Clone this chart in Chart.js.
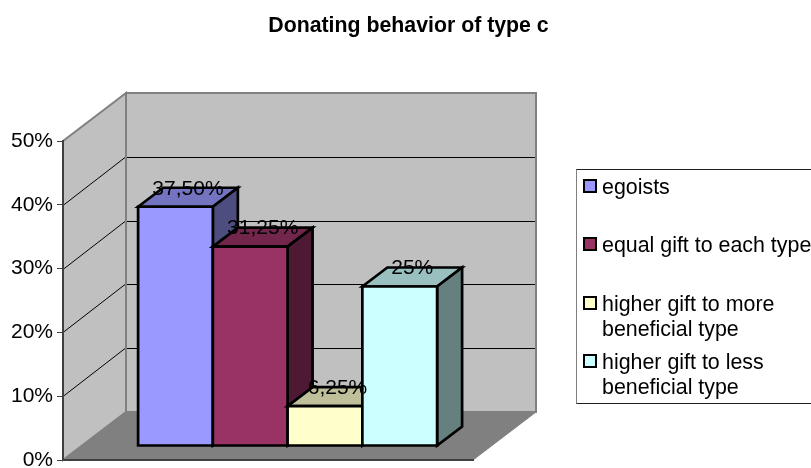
<!DOCTYPE html>
<html>
<head>
<meta charset="utf-8">
<style>html,body{margin:0;padding:0;background:#fff}canvas{display:block}</style>
<script src="https://cdn.jsdelivr.net/npm/chart.js@4/dist/chart.umd.min.js"></script>
</head>
<body>
<canvas id="c" width="811" height="468"></canvas>
<script>
const chartTitle = "Donating behavior of type c";
const categories = ["c"];
const seriesNames = ["egoists", "equal gift to each type", "higher gift to more beneficial type", "higher gift to less beneficial type"];
const legendLines = [["egoists"], ["equal gift to each type"], ["higher gift to more", "beneficial type"], ["higher gift to less", "beneficial type"]];
const seriesValues = [37.5, 31.25, 6.25, 25];
const valueLabels = ["37,50%", "31,25%", "6,25%", "25%"];
const frontColors = ["#9999FF", "#993366", "#FFFFCC", "#CCFFFF"];
const topColors = ["#7373BF", "#73264C", "#BFBF99", "#99BFBF"];
const sideColors = ["#4D4D80", "#4D1933", "#808066", "#668080"];

const FONT = '"Liberation Sans", Arial, sans-serif';
const WALL = {dx: 63, dy: -48};
const SHIFT = {dx: 19.6, dy: -14};
const DEPTH = {dx: 25, dy: -19};

function poly(ctx, pts, fill, stroke, lw) {
  ctx.beginPath();
  pts.forEach((p, i) => i ? ctx.lineTo(p[0], p[1]) : ctx.moveTo(p[0], p[1]));
  ctx.closePath();
  if (fill) { ctx.fillStyle = fill; ctx.fill(); }
  if (stroke) { ctx.strokeStyle = stroke; ctx.lineWidth = lw; ctx.lineJoin = "miter"; ctx.stroke(); }
}

const box3d = {
  id: "box3d",
  afterLayout(chart) {
    chart.titleBlock.left = 0;
    chart.titleBlock.right = 817;
  },
  beforeDraw(chart) {
    const {ctx, chartArea: a, scales: {y}} = chart;
    const L = a.left, R = a.right, B = a.bottom, T = a.top;
    ctx.save();
    poly(ctx, [[L, B], [R, B], [R + WALL.dx, B + WALL.dy], [L + WALL.dx, B + WALL.dy]], "#808080", "#808080", 1);
    poly(ctx, [[L, T], [L + WALL.dx, T + WALL.dy], [L + WALL.dx, B + WALL.dy], [L, B]], "#C0C0C0", "#808080", 2);
    poly(ctx, [[L + WALL.dx, T + WALL.dy], [R + WALL.dx, T + WALL.dy], [R + WALL.dx, B + WALL.dy], [L + WALL.dx, B + WALL.dy]], "#C0C0C0", "#808080", 2);
    ctx.strokeStyle = "#000";
    ctx.lineWidth = 1;
    y.ticks.forEach(t => {
      if (t.value <= 0 || t.value >= 50) return;
      const py = Math.round(y.getPixelForValue(t.value)) + 0.5;
      ctx.beginPath();
      ctx.moveTo(L, py);
      ctx.lineTo(L + WALL.dx - 1, py + WALL.dy);
      ctx.moveTo(L + WALL.dx + 1, py + WALL.dy);
      ctx.lineTo(R + WALL.dx - 1, py + WALL.dy);
      ctx.stroke();
    });
    ctx.restore();
  },
  beforeDatasetsDraw(chart) {
    const ctx = chart.ctx;
    ctx.save();
    ctx.translate(SHIFT.dx, SHIFT.dy);
    chart.data.datasets.forEach((ds, i) => {
      const el = chart.getDatasetMeta(i).data[0];
      const {x, y, base, width} = el.getProps(["x", "y", "base", "width"], true);
      const l = x - width / 2, r = x + width / 2;
      const d = DEPTH;
      poly(ctx, [[l, y], [l + d.dx, y + d.dy], [r + d.dx, y + d.dy], [r, y]], topColors[i], "#000", 2.7);
      poly(ctx, [[r, y], [r + d.dx, y + d.dy], [r + d.dx, base + d.dy], [r, base]], sideColors[i], "#000", 2.7);
      el.draw(ctx, chart.chartArea);
      poly(ctx, [[l, y], [r, y], [r, base], [l, base]], null, "#000", 2.7);
    });
    ctx.restore();
    return false;
  },
  afterDraw(chart) {
    const ctx = chart.ctx;
    ctx.save();
    ctx.fillStyle = "#000";
    ctx.textAlign = "center";
    ctx.textBaseline = "middle";
    ctx.font = "21px " + FONT;
    chart.data.datasets.forEach((ds, i) => {
      const el = chart.getDatasetMeta(i).data[0];
      const {x, y} = el.getProps(["x", "y"], true);
      ctx.fillText(valueLabels[i], x + SHIFT.dx + DEPTH.dx / 2, y + SHIFT.dy + DEPTH.dy + 1);
    });
    // legend
    ctx.strokeStyle = "#222";
    ctx.lineWidth = 1;
    ctx.beginPath();
    ctx.moveTo(811, 169.5); ctx.lineTo(576.5, 169.5); ctx.lineTo(576.5, 403.5); ctx.lineTo(811, 403.5);
    ctx.stroke();
    ctx.strokeStyle = "#808080";
    ctx.beginPath(); ctx.moveTo(576.5, 170); ctx.lineTo(576.5, 403); ctx.stroke();
    const rows = [187, 245, 304, 362];
    ctx.textAlign = "left";
    ctx.font = "21.4px " + FONT;
    legendLines.forEach((lines, i) => {
      ctx.fillStyle = frontColors[i];
      ctx.strokeStyle = "#000";
      ctx.lineWidth = 2;
      ctx.fillRect(584, rows[i] - 7, 12, 12);
      ctx.strokeRect(584, rows[i] - 7, 12, 12);
      ctx.fillStyle = "#000";
      lines.forEach((t, j) => ctx.fillText(t, 602, rows[i] + 1 + j * 25));
    });
    ctx.restore();
  }
};

new Chart(document.getElementById("c"), {
  type: "bar",
  data: {
    labels: categories,
    datasets: seriesNames.map((name, i) => ({
      label: name,
      data: [seriesValues[i]],
      backgroundColor: frontColors[i],
      borderWidth: 0,
      barPercentage: 1,
      categoryPercentage: 0.7293
    }))
  },
  options: {
    responsive: false,
    animation: false,
    events: [],
    layout: {padding: {left: 0, right: 338, top: 0, bottom: 8}},
    plugins: {
      legend: {display: false},
      tooltip: {enabled: false},
      title: {
        display: true,
        text: chartTitle,
        color: "#000",
        font: {family: FONT, size: 21.3, weight: "bold", lineHeight: 1},
        padding: {top: 15, bottom: 104.7}
      }
    },
    scales: {
      x: {
        ticks: {display: false},
        grid: {display: false, drawTicks: false},
        border: {display: true, color: "#404040", width: 2},
        afterFit(s) { s.height = 0; s.paddingLeft = 0; s.paddingRight = 0; }
      },
      y: {
        min: 0,
        max: 50,
        ticks: {
          stepSize: 10,
          color: "#000",
          font: {family: FONT, size: 21, lineHeight: 1},
          padding: 4,
          callback: v => v + "%"
        },
        grid: {drawOnChartArea: false, drawTicks: true, tickLength: 6, color: "#404040"},
        border: {display: true, color: "#404040", width: 2},
        afterFit(s) { s.width = 63; s.paddingTop = 0; s.paddingBottom = 0; }
      }
    }
  },
  plugins: [box3d]
});
</script>
</body>
</html>
